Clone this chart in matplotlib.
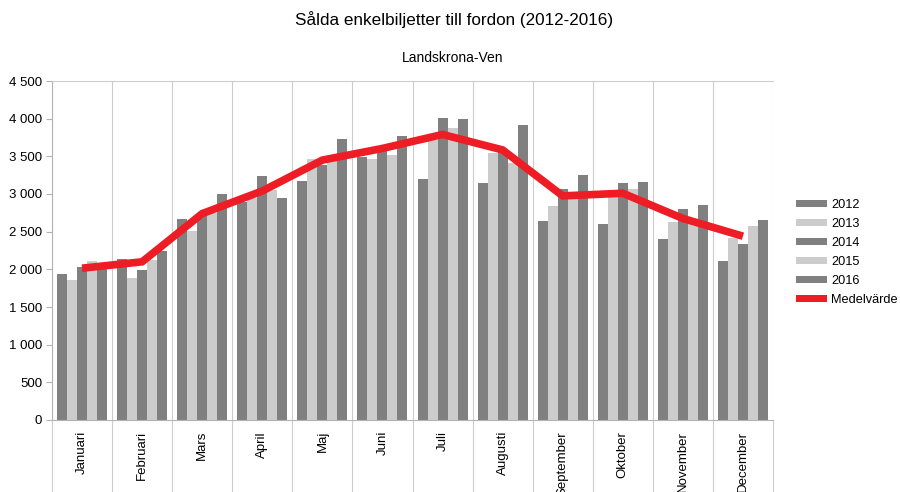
import matplotlib
matplotlib.use("Agg")
import matplotlib.pyplot as plt
import numpy as np
from matplotlib.ticker import FuncFormatter, FixedLocator
from matplotlib.patches import Patch

plt.rcParams['font.family'] = ['Liberation Sans', 'DejaVu Sans']

months = ["Januari", "Februari", "Mars", "April", "Maj", "Juni", "Juli",
          "Augusti", "September", "Oktober", "November", "December"]
years = ["2012", "2013", "2014", "2015", "2016"]

v2012 = [1940, 2140, 2670, 2900, 3170, 3495, 3195, 3150, 2640, 2605, 2400, 2105]
v2013 = [1860, 1880, 2510, 2950, 3470, 3460, 3720, 3540, 2840, 2960, 2630, 2415]
v2014 = [2035, 1985, 2720, 3240, 3385, 3585, 4015, 3595, 3065, 3145, 2805, 2335]
v2015 = [2115, 2120, 2750, 3050, 3450, 3515, 3870, 3410, 2960, 3060, 2615, 2580]
v2016 = [2010, 2250, 3005, 2945, 3725, 3770, 4000, 3910, 3250, 3165, 2850, 2660]
medel = [2015, 2100, 2740, 3040, 3450, 3605, 3790, 3585, 2975, 3010, 2675, 2440]

series = [v2012, v2013, v2014, v2015, v2016]
colors = ["#808080", "#cccccc", "#808080", "#cccccc", "#808080"]
red = "#ee1c25"

fig = plt.figure(figsize=(9, 4.92), dpi=100)
ax = fig.add_axes([52/900, 1 - 420/492, (773-52)/900, (420-81)/492])

x = np.arange(len(months))
w = 1/6
for i, (vals, c, y) in enumerate(zip(series, colors, years)):
    ax.bar(x + (i - 2) * w, vals, width=w, color=c, label=y, zorder=2)
ax.plot(x, medel, color=red, lw=5.5, label="Medelvärde", zorder=3,
        solid_capstyle='butt', solid_joinstyle='miter')

ax.set_xlim(-0.5, len(months) - 0.5)
ax.set_ylim(0, 4500)
ax.yaxis.set_major_locator(FixedLocator(np.arange(0, 4501, 500)))
ax.yaxis.set_major_formatter(FuncFormatter(lambda v, p: f"{int(v):,}".replace(",", " ")))

bounds = np.arange(-0.5, len(months), 1.0)
ax.set_xticks(bounds)
ax.set_xticklabels([])
ax.set_xticks(x, minor=True)
ax.set_xticklabels(months, minor=True, rotation=90, fontsize=9.5, va='top')
ax.tick_params(axis='x', which='major', length=52, color='#cccccc', width=0.8, direction='out')
ax.tick_params(axis='x', which='minor', length=0, pad=8)
ax.tick_params(axis='y', length=4, color='#b3b3b3', labelsize=9.5, pad=3)
ax.grid(axis='x', which='major', color='#cccccc', lw=0.8, zorder=0)

ax.spines['right'].set_visible(False)
ax.spines['top'].set_color('#cccccc')
ax.spines['top'].set_linewidth(0.8)
ax.spines['left'].set_color('#b3b3b3')
ax.spines['bottom'].set_color('#b3b3b3')

fig.text(454/900, 1 - 20/492, "Sålda enkelbiljetter till fordon (2012-2016)", ha='center', va='center', fontsize=12.3)
fig.text(453/900, 1 - 58/492, "Landskrona-Ven", ha='center', va='center', fontsize=10)

handles = [Patch(facecolor=c, edgecolor='none') for c in colors] + [Patch(facecolor=red, edgecolor='none')]
labels = years + ["Medelvärde"]
leg = fig.legend(handles, labels, loc='upper left', bbox_to_anchor=(796/900, 1 - 199/492), frameon=False,
                 fontsize=9.2, handlelength=2.4, handleheight=0.45, labelspacing=0.55,
                 handletextpad=0.35, borderaxespad=0, borderpad=0)

fig.savefig("out.png", dpi=100)
